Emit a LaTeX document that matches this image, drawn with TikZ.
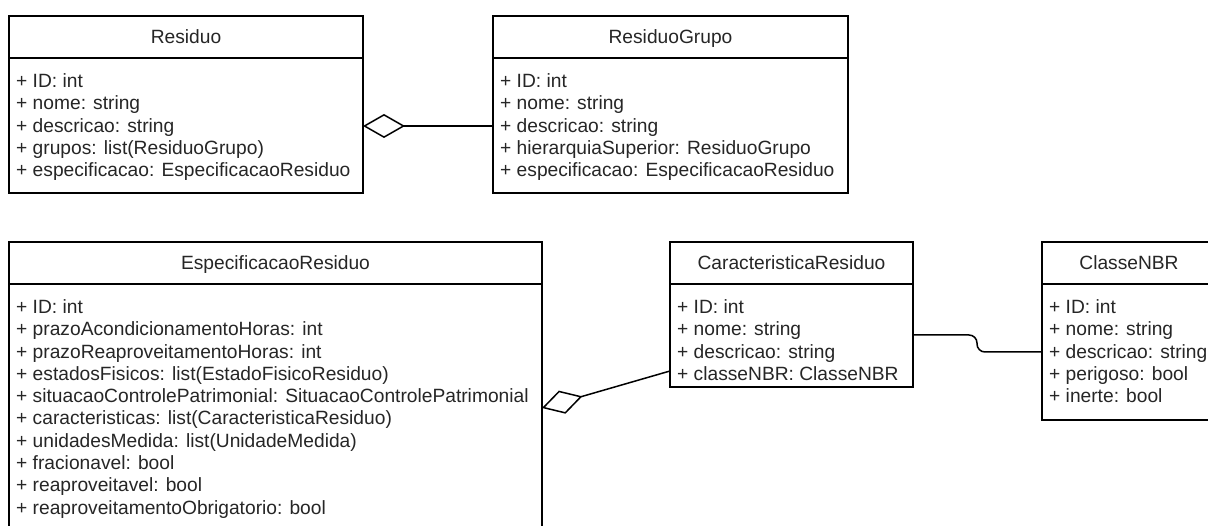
\documentclass[tikz,border=0pt]{standalone}
\usepackage{fontspec}
\setmainfont{Liberation Sans}
\usetikzlibrary{arrows.meta}
\definecolor{txtcol}{RGB}{38,38,38}
\newcommand{\umlbox}[7]{%
  \node[classbox, minimum width={#4-#2}, minimum height={#5-#3}] (#1) at (#2,#3) {};
  \draw[boxline] ([yshift=-42pt]#1.north west) -- ([yshift=-42pt]#1.north east);
  \node[classtitle] (#1-t) at ({(#2+#4)/2}, {#3+27.5}) {#6};
  \foreach \txt [count=\k] in {#7} {
    \node[attr] (#1-\k) at ({#2+7}, {#3+42+29.5+(\k-1)*22.3}) {\txt};
  }%
}
\tikzset{
  boxline/.style={draw=black, line width=1.5pt},
  classbox/.style={boxline, rectangle, anchor=north west, inner sep=0pt, outer sep=0pt},
  classtitle/.style={anchor=base, inner sep=0pt, text=txtcol, font=\fontsize{19.2}{22.3}\selectfont},
  attr/.style={anchor=base west, inner sep=0pt, text=txtcol, font=\fontsize{19.2}{22.3}\selectfont},
  conn/.style={draw=black, line width=1.5pt},
  aggr/.style={conn, -{Diamond[open, length=42pt, width=24pt, line width=1.5pt]}}
}
\begin{document}
\begin{tikzpicture}[x=1pt, y=-1pt]
\clip (0,0) rectangle (1208,526);
\fill[white] (0,0) rectangle (1208,526);

\umlbox{res}{9}{16}{363}{193}{Residuo}{{+ ID: int},{+ nome: string},{+ descricao: string},{+ grupos: list(ResiduoGrupo)},{+ especificacao: EspecificacaoResiduo}}

\umlbox{rg}{493}{16}{848}{193}{ResiduoGrupo}{{+ ID: int},{+ nome: string},{+ descricao: string},{+ hierarquiaSuperior: ResiduoGrupo},{+ especificacao: EspecificacaoResiduo}}

\umlbox{esp}{9}{242}{542}{545}{EspecificacaoResiduo}{{+ ID: int},{+ prazoAcondicionamentoHoras: int},{+ prazoReaproveitamentoHoras: int},{+ estadosFisicos: list(EstadoFisicoResiduo)},{+ situacaoControlePatrimonial: SituacaoControlePatrimonial},{+ caracteristicas: list(CaracteristicaResiduo)},{+ unidadesMedida: list(UnidadeMedida)},{+ fracionavel: bool},{+ reaproveitavel: bool},{+ reaproveitamentoObrigatorio: bool}}

\umlbox{car}{670}{242}{913}{387}{CaracteristicaResiduo}{{+ ID: int},{+ nome: string},{+ descricao: string},{+ classeNBR: ClasseNBR}}

\umlbox{nbr}{1042}{242}{1216}{420}{ClasseNBR}{{+ ID: int},{+ nome: string},{+ descricao: string},{+ perigoso: bool},{+ inerte: bool}}

% connectors
\draw[aggr] ([yshift=-110pt]rg.north west) -- ([yshift=-110pt]res.north east);
\draw[aggr] ([yshift=-129pt]car.north west) -- ([yshift=-166pt]esp.north east);
\draw[conn, rounded corners=8pt] ([yshift=-93pt]car.north east) -- ++(64,0) |- ([yshift=-110pt]nbr.north west);
\end{tikzpicture}
\end{document}
